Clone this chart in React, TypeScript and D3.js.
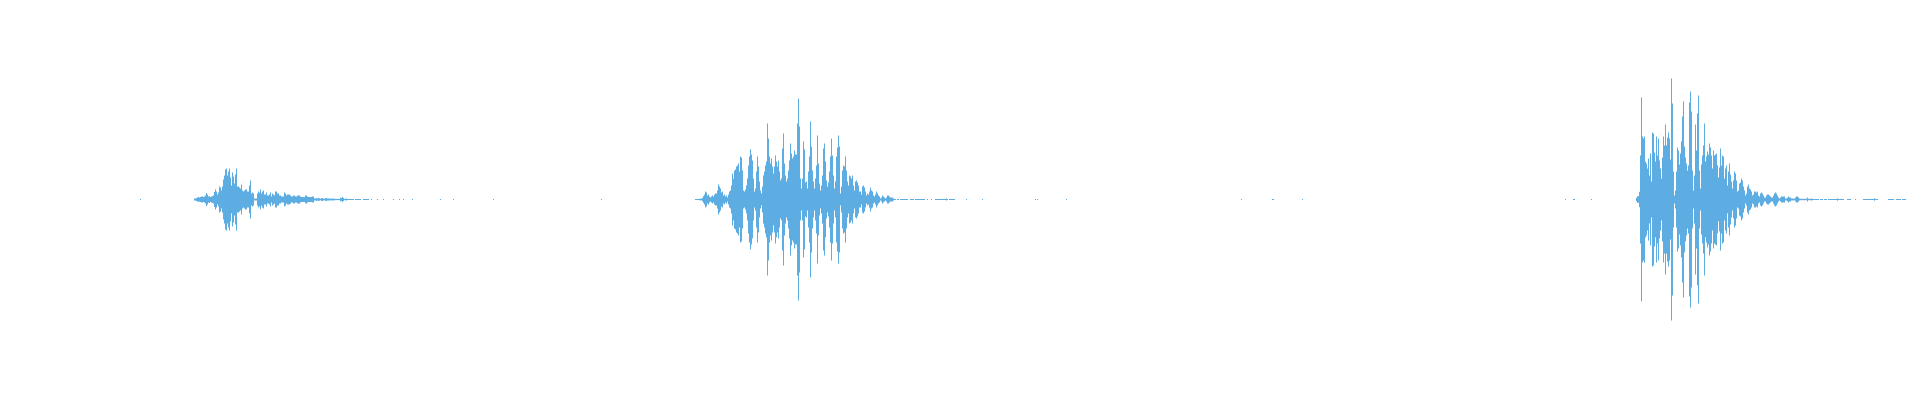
import React from "react";
import * as d3 from "d3";

// Waveform: per-sample half amplitudes (symmetric), one sample per screen column.
const burst1Start = 194;
const burst1 = [
  1, 1, 1.5, 2, 2.5, 2, 2.5, 3, 3, 2.5, 3, 4, 6.5, 5, 3, 3.5, 2.5, 3, 3.5, 4,
  7.5, 10, 8, 5, 7, 13, 12, 9, 13, 20, 24, 30, 31, 24, 28, 31, 22, 14, 27, 23,
  16, 25, 31, 13, 13, 12, 11, 15, 9, 8, 9, 10, 10, 8, 8, 14, 19, 6, 7, 6,
  1, 1, 1, 6, 8, 7, 10, 6, 8, 9, 5, 5, 7, 4, 4, 5, 7, 3, 6, 5,
  4, 8, 8, 6, 6, 4, 4, 3, 3, 3, 7, 6, 4, 5, 5, 5, 4, 3, 3, 4,
  4, 3, 3, 4, 4, 4, 3, 2.5, 2.5, 2.5, 2.5, 4, 4, 3, 2.5, 2.5, 2.5, 2.5, 3, 3,
  1, 1, 1.5, 1, 1.5, 1.2, 0.8, 1.3, 1.5, 1, 0.8, 1.2, 1.7, 1, 1, 1, 1, 0.8, 1, 1,
  0.7, 0.7, 0.7, 0.5, 0.7, 0.5, 1.7, 1.5, 2.7, 1.5, 0.7, 0.7, 1, 0.5, 0.5, 0.5, 0.5, 0.5, 0.5, 0.5,
  0, 0.5, 0.5, 0.5, 0.5, 0.5, 0.5, 0, 0, 0.5, 0.5, 0.5, 0.5, 0.5, 0.5, 0, 0, 0.5, 0, 0, 0, 0, 0, 0.5,
];

const burst2Start = 695;
const burst2 = [
  0.5, 0.5, 0.5, 0.5, 0.7, 1, 0.7, 1.7, 3.3, 5, 8, 7, 4, 5, 3, 2, 3, 4, 3, 5,
  6, 6, 9, 15, 13, 11, 7, 8, 4, 5, 3, 4, 2, 5, 8, 9, 14, 26, 21, 29,
  30, 33, 34, 36, 28, 43, 42, 29, 9, 8, 10, 14, 21, 34, 43, 50, 45, 39, 21, 8,
  11, 28, 43, 33, 18, 9, 6, 13, 24, 28, 34, 38, 76, 61, 43, 36, 41, 33, 26, 33,
  44, 38, 33, 39, 28, 19, 21, 51, 66, 36, 24, 18, 21, 29, 39, 56, 46, 41, 43, 49,
  45, 45, 76, 101, 73, 21, 11, 21, 58, 50, 17, 18, 11, 28, 43, 78, 53, 29, 18, 11,
  21, 34, 64, 36, 16, 9, 14, 24, 51, 56, 38, 19, 13, 17, 28, 43, 61, 44, 24, 11,
  18, 43, 52, 64, 53, 6, 13, 29, 34, 33, 43, 29, 18, 14, 24, 23, 21, 24, 14, 9,
  18, 19, 17, 14, 8, 8, 5, 13, 14, 12, 8, 4, 6, 5, 8, 12, 9, 8, 4, 3,
  5, 8, 6, 4, 3, 1, 2, 4, 3, 2, 1, 2, 4, 4, 3, 2, 2, 2, 1,
  0.5, 0.5, 0, 0.5, 0.5, 0, 0.5, 0.5, 0.5, 0.5, 0.5, 0.5, 0.5, 0.5, 0, 0, 0.5, 0.5, 0.5, 0.5,
  0, 0.5, 0.5, 0.5, 0.5, 0.5, 0.5, 0.5, 0.5, 0.5, 0.5, 0, 0, 0.5, 0, 0, 0, 0.5, 0, 0,
  0, 0.5, 0.5, 0.5, 0.5, 0.5, 0.5, 0.5, 0.5, 0.5, 0.5, 0.5, 1, 0.5, 0, 0.5, 0.5, 0.5, 0.5, 0.5, 0.5,
];

const burst3Start = 1636;
const burst3 = [
  1.7, 3.3, 3.3, 7.7, 44, 102, 63, 61, 63, 38, 36, 31, 41, 24, 46, 18, 67, 66, 47, 38,
  63, 44, 61, 39, 31, 21, 42, 63, 54, 75, 54, 62, 67, 61, 40, 121, 96, 28, 4, 9,
  28, 52, 49, 35, 46, 58, 83, 98, 53, 42, 36, 29, 34, 97, 108, 88, 29, 9, 24, 75,
  49, 86, 104, 29, 11, 35, 44, 54, 76, 38, 43, 48, 45, 56, 52, 44, 31, 49, 44, 45,
  46, 34, 22, 32, 51, 34, 44, 43, 21, 31, 34, 14, 28, 36, 25, 18, 11, 19, 28, 26,
  19, 8, 9, 16, 17, 21, 19, 13, 9, 4, 6, 13, 15, 11, 10, 8, 4, 5, 8, 8,
  7, 8, 4, 3, 6, 7, 6, 4, 2, 2, 4, 5, 5, 4, 3, 2, 2, 4, 6, 7,
  6, 4, 2, 1, 2, 3, 3, 3, 3, 1, 1, 2, 3, 2, 2, 1, 1, 1, 0.7, 2,
  3, 3, 2, 1, 0.7, 0.7, 0.7, 0.7, 0.7, 0.7, 0.7, 2, 0.7, 0.7, 0.7, 1, 0.7, 0.5, 0.5, 0.5,
  0.5, 0.5, 0.5, 0, 0.5, 0.5, 0.5, 0, 0.5, 0.5, 0.5, 0, 0.5, 0.5, 0.5, 0.5, 0.5, 0.5, 0.5, 0.5,
  0.5, 1.2, 0.5, 0.5, 0.5, 0.5, 0.5, 0.5, 0, 0, 0, 0.5, 0.5, 0.5, 0.5, 0, 0, 0, 0, 0.5,
  0, 0, 0, 0, 0, 0, 0, 0.5, 0.5, 0.5, 0.5, 0.5, 0.5, 0.5, 0.5, 0.5, 0.5, 0.5, 1.2, 0.5,
  0.5, 0.5, 0, 0, 0, 0, 0, 0, 0, 0, 0, 0, 0.5, 0.5, 0.5, 0.5, 0.5, 0.5, 0, 0,
  0.5, 0.5, 0.5, 0.5, 0.5, 0, 0.5, 0.5, 0.5, 0.5,
];

// isolated non-zero samples between bursts
const isolatedSamples = [
  140, 383, 393, 399, 403, 412, 440, 453, 493, 601, 966, 982, 1035, 1037, 1066,
  1241, 1272, 1273, 1302, 1565, 1573, 1574, 1591,
];
const isolatedAmp = 0.5;

const WIDTH = 1920;
const HEIGHT = 400;
const COLOR = "#5dade2";

export default function App() {
  const x = d3.scaleLinear().domain([0, WIDTH]).range([0, WIDTH]);
  const y = d3.scaleLinear().domain([-200, 200]).range([399.5, -0.5]);

  const samples: { i: number; a: number }[] = [];
  const add = (start: number, arr: number[]) =>
    arr.forEach((a, k) => {
      if (a > 0) samples.push({ i: start + k, a });
    });
  add(burst1Start, burst1);
  add(burst2Start, burst2);
  add(burst3Start, burst3);
  isolatedSamples.forEach((i) => samples.push({ i, a: isolatedAmp }));

  return (
    <svg
      width={WIDTH}
      height={HEIGHT}
      style={{ position: "absolute", left: 0, top: 0, background: "#fff" }}
    >
      <g fill={COLOR}>
        {samples.map((s) => {
          const top = y(s.a);
          const bottom = y(-s.a);
          return (
            <rect
              key={s.i}
              x={x(s.i)}
              width={x(s.i + 1) - x(s.i)}
              y={top}
              height={Math.max(1, bottom - top)}
            />
          );
        })}
      </g>
    </svg>
  );
}
